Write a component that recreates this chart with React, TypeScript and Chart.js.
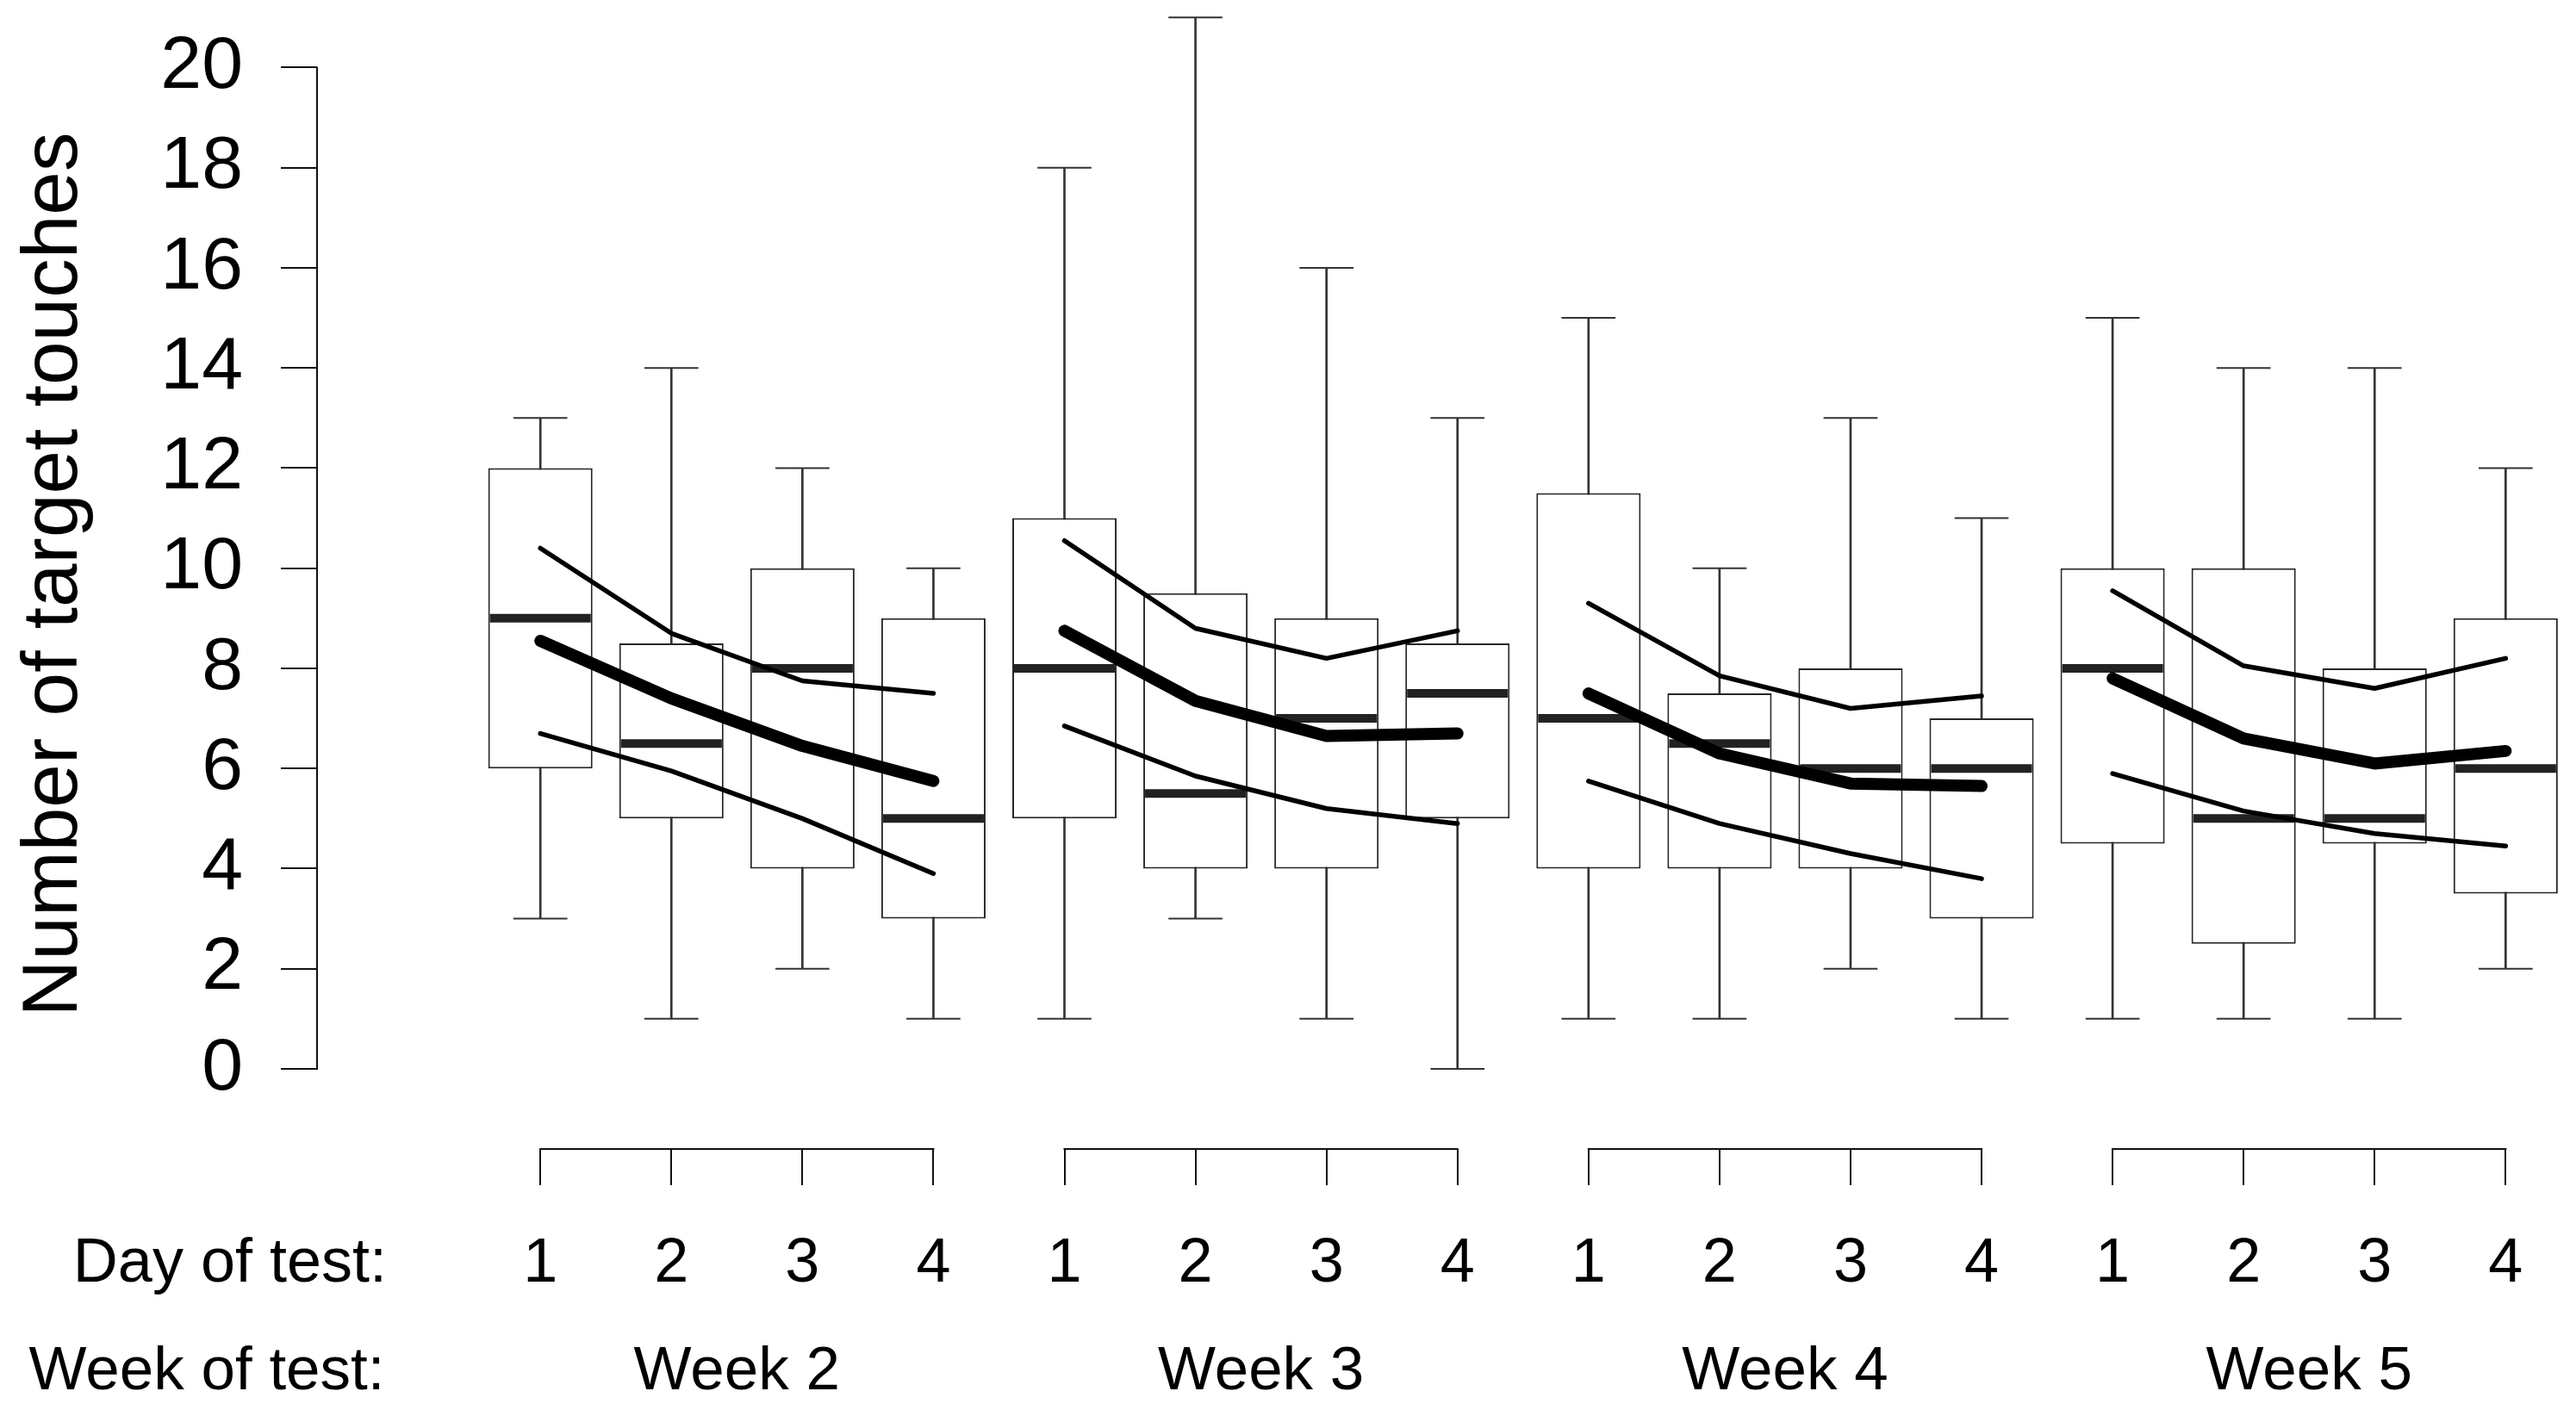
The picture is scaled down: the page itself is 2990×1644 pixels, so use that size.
import React, { useEffect, useRef } from 'react';
import { Chart, registerables } from 'chart.js';

Chart.register(...registerables);

// ---------- data ----------
const dayLabels = ['1', '2', '3', '4'];
const weekLabels = ['Week 2', 'Week 3', 'Week 4', 'Week 5'];
const yTickValues = [0, 2, 4, 6, 8, 10, 12, 14, 16, 18, 20];

const whiskerLow = [3, 1, 2, 1, 1, 3, 1, 0, 1, 1, 2, 1, 1, 1, 1, 2];
const quartile1 = [6, 5, 4, 3, 5, 4, 4, 5, 4, 4, 4, 3, 4.5, 2.5, 4.5, 3.5];
const medians = [9, 6.5, 8, 5, 8, 5.5, 7, 7.5, 7, 6.5, 6, 6, 8, 5, 5, 6];
const quartile3 = [12, 8.5, 10, 9, 11, 9.5, 9, 8.5, 11.5, 7.5, 8, 7, 10, 10, 8, 9];
const whiskerHigh = [13, 14, 12, 10, 18, 21, 16, 13, 15, 10, 13, 11, 15, 14, 14, 12];

const meanLine = [8.55, 7.4, 6.45, 5.75, 8.75, 7.35, 6.65, 6.7, 7.5, 6.3, 5.7, 5.65, 7.8, 6.6, 6.1, 6.35];
const upperLine = [10.4, 8.7, 7.75, 7.5, 10.55, 8.8, 8.2, 8.75, 9.3, 7.85, 7.2, 7.45, 9.55, 8.05, 7.6, 8.2];
const lowerLine = [6.7, 5.95, 5.0, 3.9, 6.85, 5.85, 5.2, 4.9, 5.75, 4.9, 4.3, 3.8, 5.9, 5.15, 4.7, 4.45];

const yTitle = 'Number of target touches';
const dayCaption = 'Day of test:';
const weekCaption = 'Week of test:';

// ---------- layout / style constants ----------
const FONT = '"Liberation Sans", Arial, Helvetica, sans-serif';
const W = 2990;
const H = 1644;
const X_MIN = -0.7045;
const X_MAX = 16.537;
const Y_MIN = -1.6;
const Y_MAX = 21.35;
const BOX_FRAC = 0.796;
const CAP_FRAC = 0.412;
const DAY_CAPTION_AT = -1.369;
const WEEK_CAPTION_AT = -1.546;

const nDays = dayLabels.length;
const positions = weekLabels.flatMap((_, w) => dayLabels.map((__, d) => w * nDays + d + 1));
const weekCenters = weekLabels.map((_, w) => {
  const p = positions.slice(w * nDays, w * nDays + nDays);
  return (p[0] + p[p.length - 1]) / 2;
});

function withGaps(values: number[]) {
  const out: { x: number; y: number | null }[] = [];
  weekLabels.forEach((_, w) => {
    for (let d = 0; d < nDays; d++) {
      const i = w * nDays + d;
      out.push({ x: positions[i], y: values[i] });
    }
    if (w < weekLabels.length - 1) {
      out.push({ x: positions[w * nDays + nDays - 1] + 0.5, y: null });
    }
  });
  return out;
}

function halfWidthPx(chart: any, frac: number) {
  const s = chart.scales.x;
  if (!s) return 0;
  return Math.abs(s.getPixelForValue(frac / 2) - s.getPixelForValue(0));
}

const axisDecor = {
  id: 'axisDecor',
  afterDraw(chart: any) {
    const { ctx, chartArea, scales } = chart;
    const x = scales.x;
    const y = scales.y;
    ctx.save();
    ctx.strokeStyle = '#111';
    ctx.lineWidth = 2;
    ctx.lineCap = 'square';
    ctx.beginPath();
    const ax = Math.round(chartArea.left);
    ctx.moveTo(ax, y.getPixelForValue(yTickValues[0]));
    ctx.lineTo(ax, y.getPixelForValue(yTickValues[yTickValues.length - 1]));
    ctx.stroke();
    weekLabels.forEach((_, w) => {
      const p = positions.slice(w * nDays, w * nDays + nDays);
      const by = Math.round(chartArea.bottom);
      ctx.beginPath();
      ctx.moveTo(x.getPixelForValue(p[0]), by);
      ctx.lineTo(x.getPixelForValue(p[p.length - 1]), by);
      ctx.stroke();
    });
    ctx.restore();
  },
};

export default function App() {
  const ref = useRef<HTMLCanvasElement | null>(null);

  useEffect(() => {
    if (!ref.current) return;
    Chart.defaults.font.family = FONT;
    const hideOutside = (c: any) => (c.tick && c.tick.value < X_MIN ? 'rgba(0,0,0,0)' : '#111');

    const lineStyle = (width: number, order: number) => ({
      borderColor: '#000',
      borderWidth: width,
      borderCapStyle: 'round',
      borderJoinStyle: 'round',
      pointRadius: 0,
      spanGaps: false,
      tension: 0,
      fill: false,
      order,
    });

    const chart = new Chart(ref.current, {
      type: 'bar',
      data: {
        datasets: [
          {
            type: 'bar',
            label: 'whiskers',
            data: positions.map((p, i) => ({ x: p, y: [whiskerLow[i], whiskerHigh[i]] })) as any,
            backgroundColor: '#333',
            borderWidth: 0,
            barThickness: 2,
            grouped: false,
            order: 6,
          },
          {
            type: 'bar',
            label: 'boxes',
            data: positions.map((p, i) => ({ x: p, y: [quartile1[i], quartile3[i]] })) as any,
            backgroundColor: '#ffffff',
            borderColor: '#262626',
            borderWidth: 2,
            borderSkipped: false,
            categoryPercentage: 1,
            barPercentage: BOX_FRAC,
            grouped: false,
            order: 5,
          },
          {
            type: 'scatter',
            label: 'caps',
            data: [
              ...positions.map((p, i) => ({ x: p, y: whiskerHigh[i] })),
              ...positions.map((p, i) => ({ x: p, y: whiskerLow[i] })),
            ],
            pointStyle: 'line',
            pointRadius: (c: any) => halfWidthPx(c.chart, CAP_FRAC),
            pointBorderWidth: 2,
            pointBorderColor: '#333',
            order: 4,
          } as any,
          {
            type: 'scatter',
            label: 'medians',
            data: positions.map((p, i) => ({ x: p, y: medians[i] })),
            pointStyle: 'line',
            pointRadius: (c: any) => halfWidthPx(c.chart, BOX_FRAC) - 2,
            pointBorderWidth: 10,
            pointBorderColor: '#222',
            order: 3,
          } as any,
          { type: 'line', label: 'upper', data: withGaps(upperLine) as any, ...lineStyle(5.5, 2) } as any,
          { type: 'line', label: 'lower', data: withGaps(lowerLine) as any, ...lineStyle(5.5, 2) } as any,
          { type: 'line', label: 'mean', data: withGaps(meanLine) as any, ...lineStyle(14, 1) } as any,
        ],
      },
      options: {
        animation: false,
        responsive: true,
        maintainAspectRatio: false,
        devicePixelRatio: 1,
        events: [],
        layout: { padding: 0 },
        plugins: {
          legend: { display: false },
          tooltip: { enabled: false },
        },
        scales: {
          x: {
            type: 'linear',
            position: 'bottom',
            min: X_MIN,
            max: X_MAX,
            offset: false,
            weight: 0,
            afterBuildTicks: (s: any) => {
              s.ticks = [{ value: DAY_CAPTION_AT }, ...positions.map((v) => ({ value: v }))];
            },
            afterFit: (s: any) => {
              s.height = 170;
              s.paddingLeft = 0;
              s.paddingRight = 0;
            },
            ticks: {
              autoSkip: false,
              maxRotation: 0,
              minRotation: 0,
              padding: 49,
              color: '#000',
              font: { size: 72, family: FONT, lineHeight: 1.2 },
              callback: (_v: any, i: number) => (i === 0 ? dayCaption : dayLabels[(i - 1) % nDays]),
            },
            grid: {
              display: true,
              offset: false,
              drawOnChartArea: false,
              drawTicks: true,
              tickLength: 42,
              lineWidth: 2,
              color: hideOutside,
              tickColor: hideOutside,
            },
            border: { display: false },
          },
          xw: {
            type: 'linear',
            position: 'bottom',
            min: X_MIN,
            max: X_MAX,
            offset: false,
            weight: 1,
            afterBuildTicks: (s: any) => {
              s.ticks = [{ value: WEEK_CAPTION_AT }, ...weekCenters.map((v) => ({ value: v }))];
            },
            afterFit: (s: any) => {
              s.height = 140;
              s.paddingLeft = 0;
              s.paddingRight = 0;
            },
            ticks: {
              autoSkip: false,
              maxRotation: 0,
              minRotation: 0,
              padding: 47,
              color: '#000',
              font: { size: 71, family: FONT, lineHeight: 1.2 },
              callback: (_v: any, i: number) => (i === 0 ? weekCaption : weekLabels[i - 1]),
            },
            grid: { display: false, drawTicks: false, tickLength: 0, offset: false },
            border: { display: false },
          },
          y: {
            type: 'linear',
            position: 'left',
            min: Y_MIN,
            max: Y_MAX,
            afterBuildTicks: (s: any) => {
              s.ticks = yTickValues.map((v) => ({ value: v }));
            },
            afterFit: (s: any) => {
              s.width = 368;
              s.paddingTop = 0;
              s.paddingBottom = 0;
            },
            ticks: {
              padding: 44,
              color: '#000',
              font: { size: 86, family: FONT, lineHeight: 1.2 },
            },
            grid: {
              display: true,
              drawOnChartArea: false,
              drawTicks: true,
              tickLength: 42,
              lineWidth: 2,
              color: '#111',
              tickColor: '#111',
            },
            border: { display: false },
            title: {
              display: true,
              text: yTitle,
              color: '#000',
              font: { size: 91, family: FONT, lineHeight: 1 },
              padding: { top: 18, bottom: 0 },
            },
          },
        },
      } as any,
      plugins: [axisDecor],
    });
    return () => chart.destroy();
  }, []);

  return (
    <div
      style={{
        position: 'fixed',
        left: 0,
        top: 0,
        width: W + 'px',
        height: H + 'px',
        background: '#fff',
      }}
    >
      <canvas ref={ref} />
    </div>
  );
}
